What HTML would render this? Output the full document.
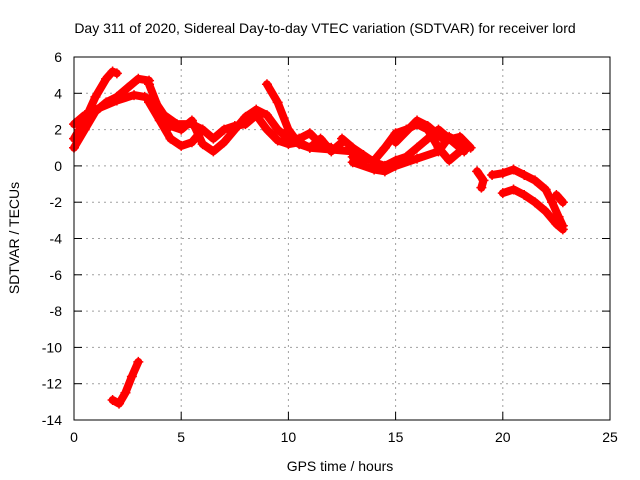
<!DOCTYPE html>
<html><head><meta charset="utf-8"><style>
body{margin:0;background:#fff}
svg{display:block;font-family:"Liberation Sans",sans-serif}
</style></head><body>
<svg id="c" width="640" height="480">
<rect width="640" height="480" fill="#fff"/>
<text x="325" y="33" font-size="14" text-anchor="middle">Day 311 of 2020, Sidereal Day-to-day VTEC variation (SDTVAR) for receiver lord</text>
<text x="340" y="471" font-size="14" text-anchor="middle">GPS time / hours</text>
<text transform="translate(19,238) rotate(-90)" font-size="14" text-anchor="middle">SDTVAR / TECUs</text>
<g id="grid"></g><g id="axes"></g><g id="marks"></g>
<rect x="74" y="57" width="536" height="363" fill="none" stroke="#000"/>
</svg>
<script>
const xTicks=[0,5,10,15,20,25];
const yTicks=[6,4,2,0,-2,-4,-6,-8,-10,-12,-14];
const track1=[[0,1.5],[0.5,2.5],[1,3.8],[1.5,4.8],[1.8,5.2],[2,5.1]];
const track2=[[0,1],[0.5,2],[1,3],[1.5,3.5],[2,3.8],[2.5,4.3],[3,4.8],[3.5,4.7]];
const track3=[[0,2.3],[0.5,2.8],[1.2,3.2],[2,3.6],[2.8,3.9],[3.3,3.8],[3.8,3.5],[4.2,2.8],[4.8,2.3],[5.5,2.3],[6,2]];
const track4=[[3.5,4.5],[4,3],[4.5,2.2],[5,2],[5.5,2.5],[6,1.2],[6.5,0.8],[7,1.3],[7.5,2],[8,2.7],[8.5,3.1],[9,2.8],[9.5,2],[10,1.5],[10.5,1.5],[11,1.8],[11.5,1.2],[12,1]];
const track5=[[3.5,3.5],[4,2.5],[4.5,1.5],[5,1.1],[5.5,1.3],[6,2],[6.5,1.5],[7,2],[7.5,2.2],[8,2.3],[8.5,2.8],[9,2],[9.5,1.4],[10,1.2],[10.5,1.3],[11,1],[11.5,1.5],[12,0.8],[12.5,1.3]];
const track6=[[9,4.5],[9.5,3.5],[10,2],[10.5,1.2],[11,1],[12,0.9],[13,0.8]];
const track7=[[12.5,1.5],[13,1],[13.5,0.6],[14,0.2],[14.5,0],[15,0.3],[15.5,0.5],[16,1],[16.5,1.5],[17,2],[17.5,1.5],[18,1]];
const track8=[[13,0.5],[14,0.3],[14.5,1],[15,1.8],[15.5,2],[16,2.3],[16.5,2],[17,1],[17.5,0.3],[18,0.8]];
const track9=[[13,0.2],[14,-0.2],[14.5,-0.3],[15,0],[16,0.4],[17,0.8],[17.5,1.6],[18,1.3],[18.2,0.8]];
const track10=[[15,1.3],[16,2.5],[16.5,2.2],[17.3,1.4],[18,1.6],[18.5,1]];
const track11=[[18.8,-0.3],[19.1,-0.8],[19,-1.2]];
const track12=[[19.5,-0.5],[20,-0.4],[20.5,-0.2],[21,-0.5],[21.5,-0.8],[22,-1.3],[22.3,-2],[22.6,-2.8],[22.8,-3.3]];
const track13=[[20,-1.5],[20.5,-1.3],[21,-1.6],[21.5,-2],[22,-2.5],[22.5,-3.2],[22.8,-3.5]];
const track14=[[22.5,-1.6],[22.8,-2]];
const track15=[[1.8,-12.9],[2.1,-13.1],[2.4,-12.5],[2.7,-11.6],[3,-10.8]];
const tracks=[track1,track2,track3,track4,track5,track6,track7,track8,track9,track10,track11,track12,track13,track14,track15];
const X=v=>74+v*(536/25), Y=v=>57+(6-v)*(363/20);
const NS='http://www.w3.org/2000/svg';
function mk(t,a,p){const e=document.createElementNS(NS,t);for(const k in a)e.setAttribute(k,a[k]);p.appendChild(e);return e;}
const g=document.getElementById('grid'),ax=document.getElementById('axes'),m=document.getElementById('marks');
xTicks.forEach(t=>{const x=X(t);
 if(t>0&&t<25){const l=mk('line',{x1:x,x2:x,y1:57,y2:420,stroke:'#a0a0a0','stroke-dasharray':'2,4'},g);}
 mk('line',{x1:x,x2:x,y1:420,y2:412,stroke:'#000'},ax);mk('line',{x1:x,x2:x,y1:57,y2:65,stroke:'#000'},ax);
 const s=mk('text',{x:x,y:442,'font-size':14,'text-anchor':'middle'},ax);s.textContent=t;
 });
yTicks.forEach(t=>{const y=Y(t);
 if(t>-14&&t<6){const l=mk('line',{x1:74,x2:610,y1:y,y2:y,stroke:'#a0a0a0','stroke-dasharray':'2,4'},g);}
 mk('line',{x1:74,x2:82,y1:y,y2:y,stroke:'#000'},ax);mk('line',{x1:610,x2:602,y1:y,y2:y,stroke:'#000'},ax);
 const s=mk('text',{x:62,y:y+5,'font-size':14,'text-anchor':'end'},ax);s.textContent=t;
 });
tracks.forEach(tr=>{
 const p=mk('polyline',{points:tr.map(d=>X(d[0])+','+Y(d[1])).join(' '),fill:'none',stroke:'#f00','stroke-width':8,'stroke-linejoin':'round','stroke-linecap':'round'},m);
 
 
 tr.forEach(d=>{const x=X(d[0]),y=Y(d[1]);
  const c=mk('path',{d:`M${x-5},${y}h10M${x},${y-5}v10`,stroke:'#f00','stroke-width':1.5},m);
  
  });
});
</script>
</body></html>
